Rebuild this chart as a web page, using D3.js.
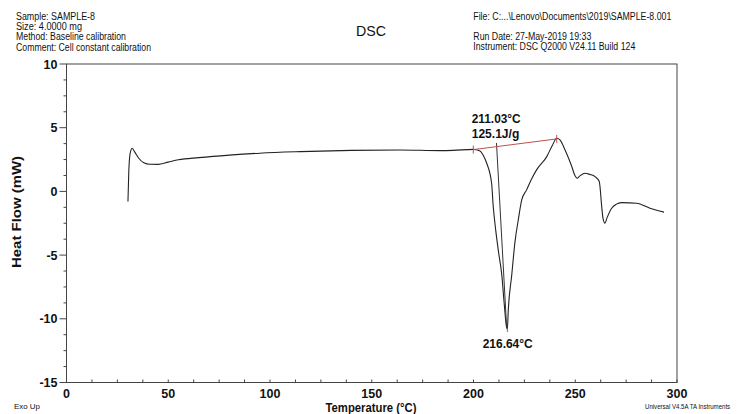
<!DOCTYPE html>
<html>
<head>
<meta charset="utf-8">
<script src="https://cdn.jsdelivr.net/npm/d3@7/dist/d3.min.js"></script>
<style>
  body { margin: 0; background: #fff; }
  text { font-family: "Liberation Sans", Arial, sans-serif; fill: #111; }
</style>
</head>
<body>
<svg id="chart" width="740" height="414"></svg>
<script>
// DSC trace: temperature (°C) and heat flow (mW)
const temperature = [30.2, 30.6, 31.3, 32.3, 33.5, 35.5, 38, 41, 45, 50, 55, 65, 80, 95, 115, 140, 164, 183.7, 190, 199.9,
  203.2, 204.7, 206.5, 208.9, 209.7, 210.9, 212.3, 213.9, 215.0, 216.3, 216.64,
  217.1, 218.8, 220.4, 222, 223.7, 226.1, 228.3, 231, 236, 238.6, 240.9, 242.5, 245, 248.3, 249.9, 250.9,
  252.3, 254.8, 257.2, 259.7, 261.8, 263, 263.6, 264.6, 265.6, 267.9, 270, 272.8, 280.2, 286.7, 293.6];
const heatFlow = [-0.8, 1.5, 3.0, 3.39, 3.1, 2.6, 2.25, 2.13, 2.12, 2.3, 2.48, 2.65, 2.85, 3.0, 3.12, 3.22, 3.25, 3.2, 3.22, 3.3,
  3.18, 2.86, 2.21, 0.64, -1.19, -3.02, -4.75, -6.55, -8.64, -10.7, -10.8,
  -9.29, -6.55, -3.94, -2.24, -0.67, 0.12, 0.9, 1.69, 2.73, 3.57, 4.17, 4.04, 3.25, 1.95, 1.22, 1.03,
  1.22, 1.43, 1.33, 1.16, 0.77, -1.19, -2.08, -2.5, -2.08, -1.32, -1.02, -0.88, -0.93, -1.32, -1.63];

// peak integration: baseline, onset tangent, peak marker
const baselineT = [199.9, 240.9];
const baselineHF = [3.28, 4.12];
const tangentT = [211.3, 216.3];
const tangentHF = [3.8, -10.73];
const peakT = 216.64;
const peakHF = -10.8;

const xTicks = [0, 50, 100, 150, 200, 250, 300];
const yTicks = [-15, -10, -5, 0, 5, 10];

const headerLeft = ["Sample: SAMPLE-8", "Size:  4.0000 mg", "Method: Baseline calibration", "Comment: Cell constant calibration"];
const headerLeftWidth = [79, 66, 110, 135];
const headerRight = ["File: C:...\\Lenovo\\Documents\\2019\\SAMPLE-8.001", "Run Date: 27-May-2019 19:33", "Instrument: DSC Q2000 V24.11 Build 124"];
const headerRightWidth = [198, 118, 162];

const svg = d3.select('#chart');
const margin = { top: 64, right: 63, bottom: 31.5, left: 66.5 };
const width = 740 - margin.left - margin.right;
const height = 414 - margin.top - margin.bottom;

const x = d3.scaleLinear().domain([0, 300]).range([margin.left, margin.left + width]);
const y = d3.scaleLinear().domain([-15, 10]).range([margin.top + height, margin.top]);

// frame
svg.append('rect')
    .attr('x', x(0)).attr('y', y(10))
    .attr('width', width).attr('height', height)
    .attr('fill', 'none').attr('stroke', '#444').attr('stroke-width', 1);

// minor ticks (4 subdivisions)
const xMinor = d3.range(0, 300.1, 12.5);
const yMinor = d3.range(-15, 10.1, 1.25);

svg.append('g').selectAll('line').data(xMinor).join('line')
    .attr('x1', d => x(d)).attr('x2', d => x(d))
    .attr('y1', y(-15)).attr('y2', y(-15) - 3)
    .attr('stroke', '#444');

svg.append('g').selectAll('line').data(yMinor).join('line')
    .attr('x1', x(0)).attr('x2', d => x(0) - (yTicks.includes(d) ? 7 : 3))
    .attr('y1', d => y(d)).attr('y2', d => y(d))
    .attr('stroke', '#444');

// tick labels
svg.append('g').selectAll('text').data(xTicks).join('text')
    .attr('x', d => x(d)).attr('y', y(-15) + 15)
    .attr('text-anchor', 'middle')
    .attr('font-size', 12.5).attr('font-weight', 'bold')
    .text(d => d);

svg.append('g').selectAll('text').data(yTicks).join('text')
    .attr('x', x(0) - 9).attr('y', d => y(d) + 4.5)
    .attr('text-anchor', 'end')
    .attr('font-size', 12.5).attr('font-weight', 'bold')
    .text(d => d);

// axis titles
svg.append('text')
    .attr('x', 371).attr('y', 412)
    .attr('text-anchor', 'middle')
    .attr('font-size', 12.5).attr('font-weight', 'bold')
    .attr('textLength', 91).attr('lengthAdjust', 'spacingAndGlyphs')
    .text('Temperature (°C)');

svg.append('text')
    .attr('transform', 'translate(21,212) rotate(-90)')
    .attr('text-anchor', 'middle')
    .attr('font-size', 12.5).attr('font-weight', 'bold')
    .attr('textLength', 112).attr('lengthAdjust', 'spacingAndGlyphs')
    .text('Heat Flow (mW)');

// header
svg.append('g').selectAll('text').data(headerLeft).join('text')
    .attr('x', 16).attr('y', (d, i) => 20 + i * 10.2)
    .attr('font-size', 10)
    .attr('textLength', (d, i) => headerLeftWidth[i]).attr('lengthAdjust', 'spacingAndGlyphs')
    .text(d => d);

svg.append('g').selectAll('text').data(headerRight).join('text')
    .attr('x', 473.3).attr('y', (d, i) => [20, 39.5, 50][i])
    .attr('font-size', 10)
    .attr('textLength', (d, i) => headerRightWidth[i]).attr('lengthAdjust', 'spacingAndGlyphs')
    .text(d => d);

svg.append('text')
    .attr('x', 371).attr('y', 36)
    .attr('text-anchor', 'middle')
    .attr('font-size', 14)
    .attr('textLength', 30).attr('lengthAdjust', 'spacingAndGlyphs')
    .text('DSC');

svg.append('text')
    .attr('x', 14).attr('y', 409)
    .attr('font-size', 8)
    .attr('textLength', 26).attr('lengthAdjust', 'spacingAndGlyphs')
    .text('Exo Up');

// squeezed horizontally with a transform so it stays inside the page
svg.append('text')
    .attr('transform', 'translate(645,409) scale(0.76,1)')
    .attr('font-size', 8)
    .text('Universal V4.5A TA Instruments');

// trace
const points = temperature.map((t, i) => [t, heatFlow[i]]);
const line = d3.line()
    .x(d => x(d[0]))
    .y(d => y(d[1]))
    .curve(d3.curveMonotoneX);

svg.append('path')
    .datum(points)
    .attr('d', line)
    .attr('fill', 'none')
    .attr('stroke', '#222')
    .attr('stroke-width', 1.1);

// onset tangent
svg.append('line')
    .attr('x1', x(tangentT[0])).attr('y1', y(tangentHF[0]))
    .attr('x2', x(tangentT[1])).attr('y2', y(tangentHF[1]))
    .attr('stroke', '#333').attr('stroke-width', 1);

// integration baseline with end marks
svg.append('line')
    .attr('x1', x(baselineT[0])).attr('y1', y(baselineHF[0]))
    .attr('x2', x(baselineT[1])).attr('y2', y(baselineHF[1]))
    .attr('stroke', '#c0504d').attr('stroke-width', 1);

svg.append('g').selectAll('line').data([0, 1]).join('line')
    .attr('x1', i => x(baselineT[i])).attr('x2', i => x(baselineT[i]))
    .attr('y1', i => y(baselineHF[i]) - 4).attr('y2', i => y(baselineHF[i]) + 4)
    .attr('stroke', '#c0504d').attr('stroke-width', 1);

svg.append('line')
    .attr('x1', x(peakT)).attr('x2', x(peakT))
    .attr('y1', y(peakHF)).attr('y2', y(peakHF) + 3)
    .attr('stroke', '#c0504d').attr('stroke-width', 1);

// annotations
svg.append('text')
    .attr('x', 471.7).attr('y', 123.3)
    .attr('font-size', 12.5).attr('font-weight', 'bold')
    .attr('textLength', 49).attr('lengthAdjust', 'spacingAndGlyphs')
    .text('211.03°C');

svg.append('text')
    .attr('x', 471.7).attr('y', 137.5)
    .attr('font-size', 12.5).attr('font-weight', 'bold')
    .attr('textLength', 47.6).attr('lengthAdjust', 'spacingAndGlyphs')
    .text('125.1J/g');

svg.append('text')
    .attr('x', 482.7).attr('y', 347.7)
    .attr('font-size', 12.5).attr('font-weight', 'bold')
    .attr('textLength', 50).attr('lengthAdjust', 'spacingAndGlyphs')
    .text('216.64°C');
</script>
</body>
</html>
